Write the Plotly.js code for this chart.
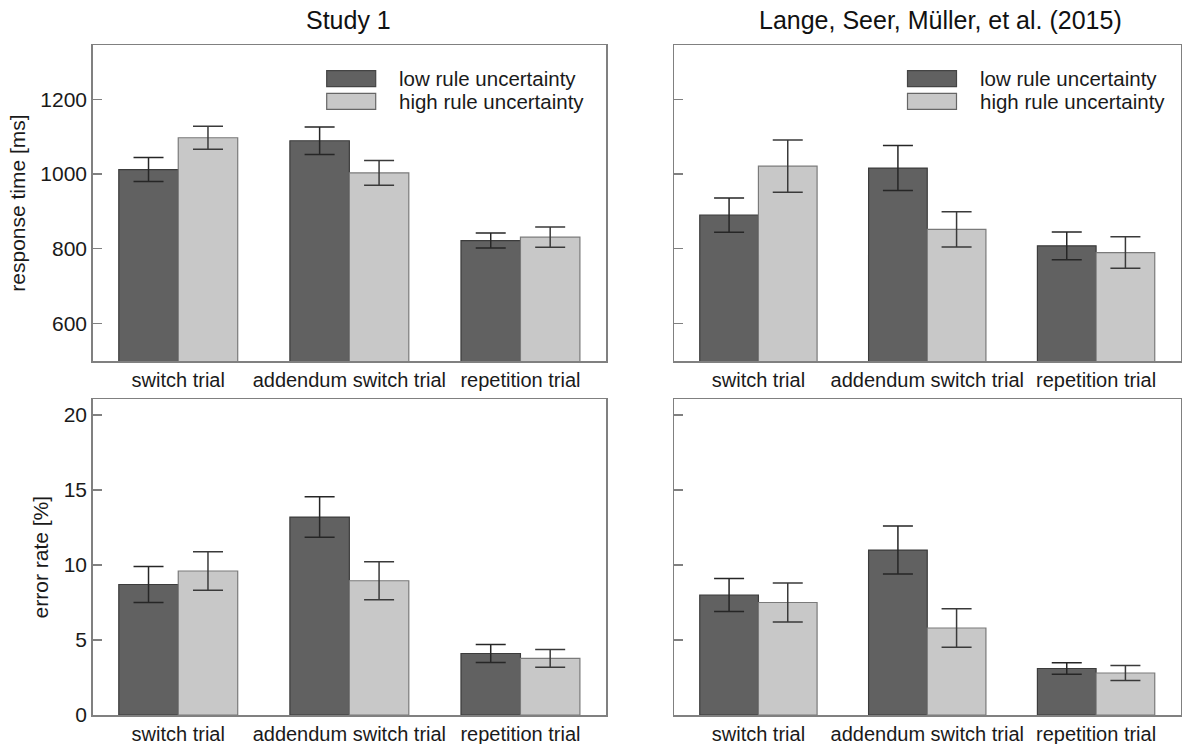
<!DOCTYPE html>
<html>
<head>
<meta charset="utf-8">
<script src="https://cdn.plot.ly/plotly-3.0.1.min.js"></script>
<style>html,body{margin:0;padding:0;background:#fff;}#chart{width:1182px;height:744px;}</style>
</head>
<body>
<div id="chart"></div>
<script>
// ---- data ----
var categories = ["switch trial", "addendum switch trial", "repetition trial"];
var seriesNames = ["low rule uncertainty", "high rule uncertainty"];
var panelTitles = ["Study 1", "Lange, Seer, Müller, et al. (2015)"];
var yTitles = ["response time [ms]", "error rate [%]"];

var rtTicks = [600, 800, 1000, 1200];
var erTicks = [0, 5, 10, 15, 20];

// Study 1 response time
var study1RtLow = [1012, 1089, 822];
var study1RtLowErr = [32, 37, 20];
var study1RtHigh = [1097, 1003, 831];
var study1RtHighErr = [31, 33, 27];
// Lange et al. response time
var langeRtLow = [890, 1016, 808];
var langeRtLowErr = [46, 60, 37];
var langeRtHigh = [1021, 852, 790];
var langeRtHighErr = [70, 47, 42];
// Study 1 error rate
var study1ErLow = [8.7, 13.2, 4.1];
var study1ErLowErr = [1.2, 1.35, 0.6];
var study1ErHigh = [9.6, 8.95, 3.77];
var study1ErHighErr = [1.28, 1.27, 0.59];
// Lange et al. error rate
var langeErLow = [8.0, 11.0, 3.1];
var langeErLowErr = [1.1, 1.6, 0.39];
var langeErHigh = [7.5, 5.8, 2.8];
var langeErHighErr = [1.3, 1.29, 0.5];

// ---- styles ----
var W = 1182, H = 744;
var FONT = "Liberation Sans, Arial, Helvetica, sans-serif";
var darkFill = "#616161", lightFill = "#c8c8c8";
var darkLine = "#3c3c3c", lightLine = "#7a7a7a";
var frameColor = "#808080";
var textColor = "#1a1a1a";

function px(x) { return x / W; }
function py(y) { return 1 - y / H; }

function barTrace(vals, errs, which, xa, ya) {
  var dark = which === 0;
  return {
    type: "bar",
    name: seriesNames[which],
    x: categories,
    y: vals,
    xaxis: xa, yaxis: ya,
    showlegend: false,
    marker: { color: dark ? darkFill : lightFill, line: { color: dark ? darkLine : lightLine, width: 1.2 } },
    error_y: { type: "data", array: errs, visible: true, color: dark ? "#262626" : "#3a3a3a", thickness: 1.5, width: 15 },
    hoverinfo: "x+y"
  };
}

var data = [
  barTrace(study1RtLow, study1RtLowErr, 0, "x", "y"),
  barTrace(study1RtHigh, study1RtHighErr, 1, "x", "y"),
  barTrace(langeRtLow, langeRtLowErr, 0, "x2", "y2"),
  barTrace(langeRtHigh, langeRtHighErr, 1, "x2", "y2"),
  barTrace(study1ErLow, study1ErLowErr, 0, "x3", "y3"),
  barTrace(study1ErHigh, study1ErHighErr, 1, "x3", "y3"),
  barTrace(langeErLow, langeErLowErr, 0, "x4", "y4"),
  barTrace(langeErHigh, langeErHighErr, 1, "x4", "y4")
];

var leftX = [px(92.7), px(606)];
var rightX = [px(674), px(1180.5)];
var topY = [py(361), py(45)];
var botY = [py(715), py(399.3)];

function xAxis(domain, anchor) {
  return {
    domain: domain, anchor: anchor, type: "category",
    showline: true, mirror: true, linecolor: frameColor, linewidth: 1.5,
    showgrid: false, zeroline: false, ticks: "",
    tickfont: { family: FONT, size: 20, color: textColor },
    fixedrange: true
  };
}
function yAxis(domain, anchor, range, ticks, labels, title) {
  var ax = {
    domain: domain, anchor: anchor, range: range,
    tickmode: "array", tickvals: ticks, ticktext: labels ? ticks.map(String) : ticks.map(function(){return "";}),
    showticklabels: labels,
    showline: true, mirror: true, linecolor: frameColor, linewidth: 1.5,
    showgrid: false, zeroline: false,
    ticks: "inside", ticklen: 9, tickwidth: 1.2, tickcolor: frameColor,
    tickfont: { family: FONT, size: 21, color: textColor },
    fixedrange: true
  };
  if (title) {
    ax.title = { text: title, font: { family: FONT, size: 21, color: textColor }, standoff: 9 };
  }
  return ax;
}

var shapes = [];
var annotations = [];

// panel titles
annotations.push({ xref: "paper", yref: "paper", x: px(348), y: py(20), xanchor: "center", yanchor: "middle",
  text: panelTitles[0], showarrow: false, font: { family: FONT, size: 25, color: "#111" } });
annotations.push({ xref: "paper", yref: "paper", x: px(940), y: py(20), xanchor: "center", yanchor: "middle",
  text: panelTitles[1], showarrow: false, font: { family: FONT, size: 25, color: "#111" } });

// legends (drawn in each top panel)
function addLegend(x0) {
  var rows = [{ y0: 70.7, y1: 86.7, fill: darkFill, line: "#444" }, { y0: 93.3, y1: 109.3, fill: lightFill, line: "#666" }];
  rows.forEach(function (r, i) {
    shapes.push({ type: "rect", xref: "paper", yref: "paper", x0: px(x0), x1: px(x0 + 49), y0: py(r.y1), y1: py(r.y0),
      fillcolor: r.fill, line: { color: r.line, width: 1.2 } });
    annotations.push({ xref: "paper", yref: "paper", x: px(x0 + 70), y: py((r.y0 + r.y1) / 2), xanchor: "left", yanchor: "middle",
      text: seriesNames[i], showarrow: false, font: { family: FONT, size: 20.5, color: textColor } });
  });
}
addLegend(326.7);
addLegend(907.5);

var layout = {
  width: W, height: H,
  margin: { l: 0, r: 0, t: 0, b: 0 },
  paper_bgcolor: "#ffffff", plot_bgcolor: "#ffffff",
  barmode: "group", bargap: 0.305, bargroupgap: 0,
  showlegend: false,
  font: { family: FONT, size: 21, color: textColor },
  xaxis: xAxis(leftX, "y"),
  yaxis: yAxis(topY, "x", [500, 1345], rtTicks, true, yTitles[0]),
  xaxis2: xAxis(rightX, "y2"),
  yaxis2: yAxis(topY, "x2", [500, 1345], rtTicks, false, null),
  xaxis3: xAxis(leftX, "y3"),
  yaxis3: yAxis(botY, "x3", [0, 21.05], erTicks, true, yTitles[1]),
  xaxis4: xAxis(rightX, "y4"),
  yaxis4: yAxis(botY, "x4", [0, 21.05], erTicks, false, null),
  shapes: shapes,
  annotations: annotations
};

Plotly.newPlot("chart", data, layout, { displayModeBar: false, staticPlot: true });
</script>
</body>
</html>
